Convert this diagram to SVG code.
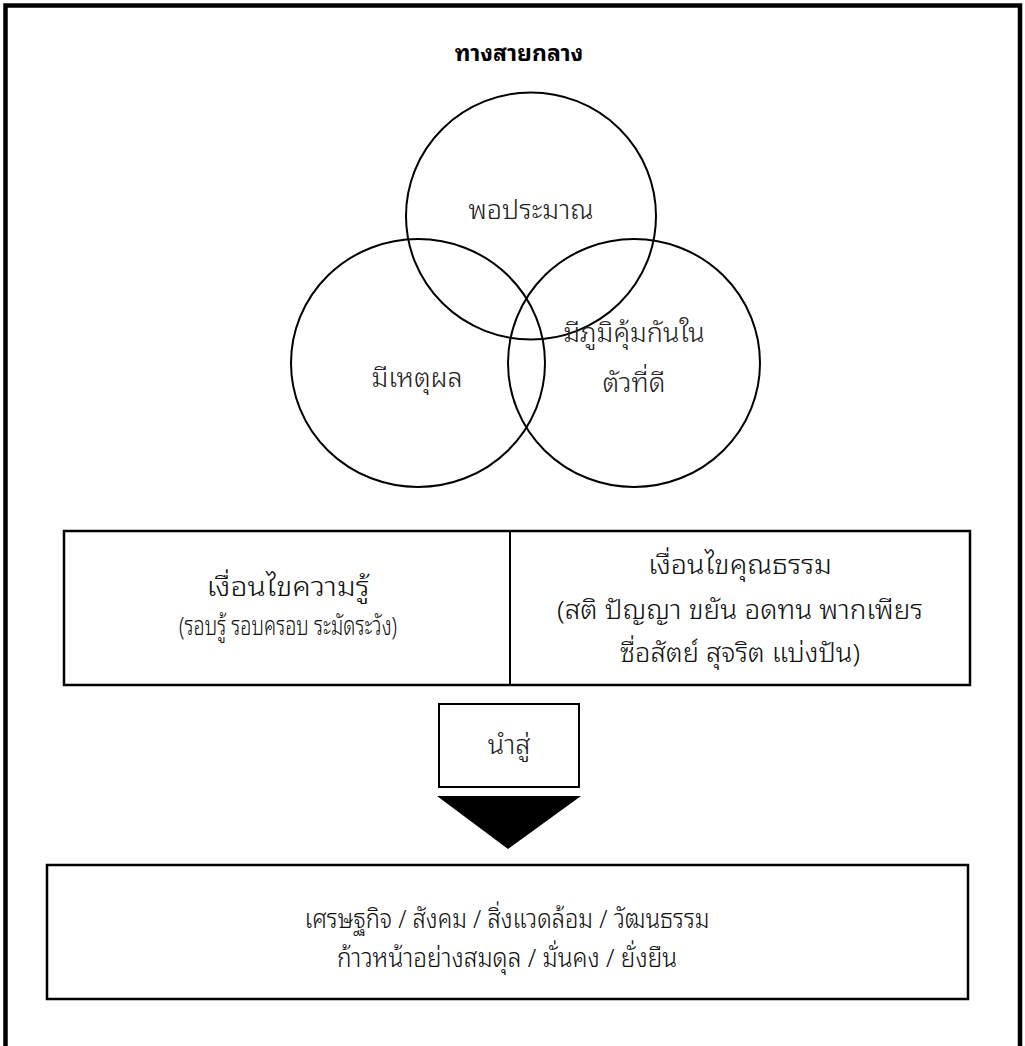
<svg xmlns="http://www.w3.org/2000/svg" width="1025" height="1046" viewBox="0 0 1025 1046">
  <style>
    .t { font-family: "Noto Sans Thai Looped", "Noto Sans", "Liberation Sans", sans-serif; fill: #000; text-anchor: middle; }
    .c { font-size: 27px; fill: #222; font-weight: 300; }
    .k { font-size: 26px; fill: #111; font-weight: 300; }
    .title { font-size: 23px; font-weight: bold; }
    .ln { fill: none; stroke: #000; }
  </style>
  <rect width="1025" height="1046" fill="#fff"/>
  <path class="ln" d="M5.5,1046 V5.5 H1020 V1046" stroke-width="4.5"/>

  <g id="title">
    <text class="t title" x="519" y="61">ทางสายกลาง</text>
  </g>

  <g id="circle-top">
    <ellipse class="ln" cx="531" cy="216" rx="125" ry="123.5" stroke-width="2"/>
    <text class="t c" x="531" y="219">พอประมาณ</text>
  </g>
  <g id="circle-left">
    <ellipse class="ln" cx="418" cy="363" rx="127" ry="124" stroke-width="2"/>
    <text class="t c" x="417" y="387">มีเหตุผล</text>
  </g>
  <g id="circle-right">
    <ellipse class="ln" cx="634" cy="363" rx="126" ry="124" stroke-width="2"/>
    <text class="t c" x="634" y="342">มีภูมิคุ้มกันใน</text>
    <text class="t c" x="634" y="392">ตัวที่ดี</text>
  </g>

  <g id="conditions">
    <rect class="ln" x="64" y="531" width="906" height="154" stroke-width="2.5"/>
    <line class="ln" x1="510" y1="531" x2="510" y2="685" stroke-width="2"/>
  </g>
  <g id="knowledge">
    <text class="t k" x="288" y="596" textLength="163" lengthAdjust="spacingAndGlyphs">เงื่อนไขความรู้</text>
    <text class="t k" x="288" y="635" textLength="218" lengthAdjust="spacingAndGlyphs">(รอบรู้ รอบครอบ ระมัดระวัง)</text>
  </g>
  <g id="morality">
    <text class="t k" x="740" y="574" textLength="184" lengthAdjust="spacingAndGlyphs">เงื่อนไขคุณธรรม</text>
    <text class="t k" x="740" y="619" textLength="366" lengthAdjust="spacingAndGlyphs">(สติ ปัญญา ขยัน อดทน พากเพียร</text>
    <text class="t k" x="740" y="662" textLength="240" lengthAdjust="spacingAndGlyphs">ซื่อสัตย์ สุจริต แบ่งปัน)</text>
  </g>

  <g id="leads-to">
    <rect class="ln" x="439" y="704" width="140" height="83" stroke-width="2"/>
    <text class="t c" x="509" y="754">นำสู่</text>
  </g>

  <g id="connectors">
    <polygon points="437,796 581,796 508,849" fill="#000"/>
  </g>

  <g id="outcome">
    <rect class="ln" x="47" y="865" width="921" height="134" stroke-width="2.5"/>
    <text class="t k" x="507" y="928" textLength="405" lengthAdjust="spacingAndGlyphs">เศรษฐกิจ / สังคม / สิ่งแวดล้อม / วัฒนธรรม</text>
    <text class="t k" x="507" y="967" textLength="340" lengthAdjust="spacingAndGlyphs">ก้าวหน้าอย่างสมดุล / มั่นคง / ยั่งยืน</text>
  </g>
</svg>
